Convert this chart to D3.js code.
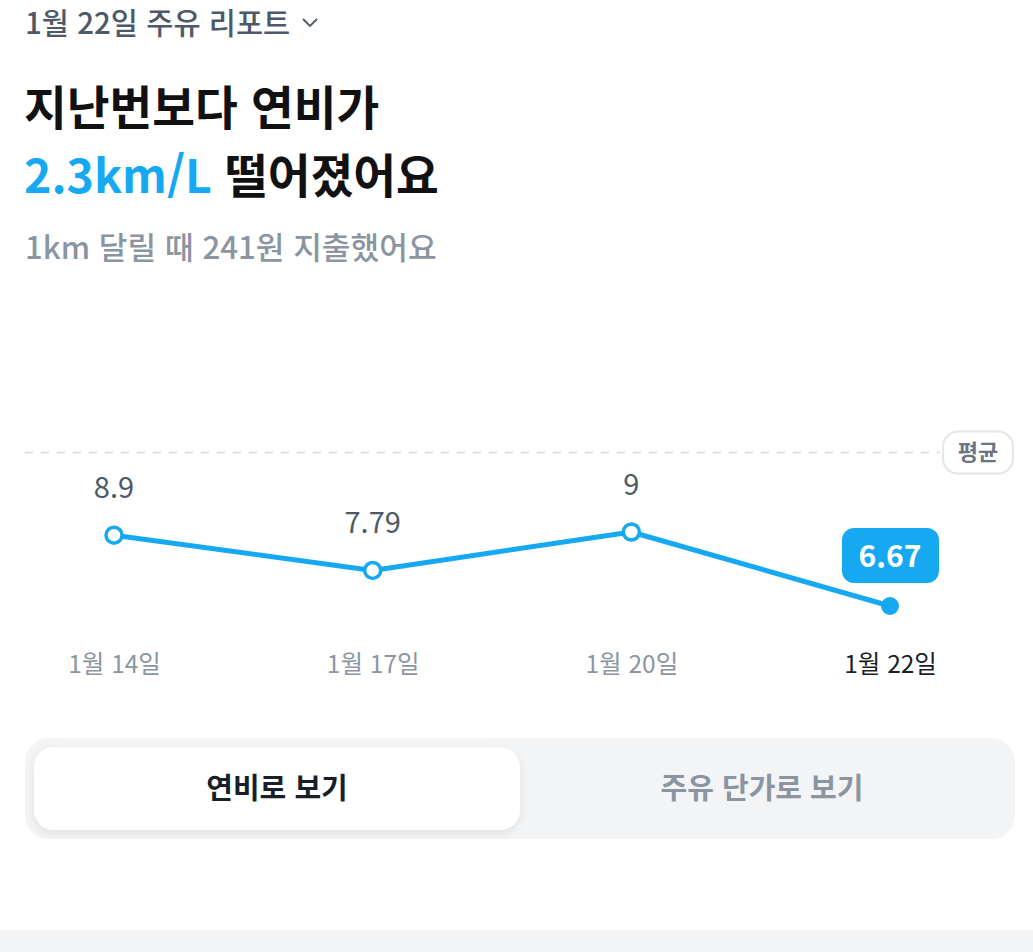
<!DOCTYPE html>
<html lang="ko">
<head>
<meta charset="UTF-8">
<title>주유 리포트</title>
<script src="https://d3js.org/d3.v7.min.js"></script>
<style>
  body { margin: 0; background: #fff; }
  svg { display: block; font-family: "Noto Sans CJK KR", "Noto Sans", sans-serif; }
</style>
</head>
<body>
<svg id="chart"></svg>
<script>
  // data
  const dates = ["1월 14일", "1월 17일", "1월 20일", "1월 22일"];
  const efficiency = [8.9, 7.79, 9, 6.67];
  const averageValue = 11.5;
  const toggleLabels = ["연비로 보기", "주유 단가로 보기"];

  const width = 1033, height = 952;
  const blue = "#16a9f2";

  const svg = d3.select("#chart").attr("width", width).attr("height", height);

  // header
  svg.append("text")
     .attr("x", 25).attr("y", 34)
     .attr("font-size", 29.5).attr("font-weight", 500).attr("fill", "#4e5968")
     .text("1월 22일 주유 리포트");
  svg.append("path")
     .attr("d", "M303,19 L310,26 L317,19")
     .attr("fill", "none").attr("stroke", "#4e5968").attr("stroke-width", 1.8);

  svg.append("text")
     .attr("x", 24).attr("y", 125)
     .attr("font-size", 46.5).attr("font-weight", 700).attr("fill", "#111")
     .text("지난번보다 연비가");

  const t2 = svg.append("text")
     .attr("x", 24).attr("y", 193)
     .attr("font-size", 46.5).attr("font-weight", 700).attr("fill", "#111");
  t2.append("tspan").attr("fill", blue).text("2.3km/L");
  t2.append("tspan").text(" 떨어졌어요");

  svg.append("text")
     .attr("x", 25).attr("y", 259)
     .attr("font-size", 31.2).attr("font-weight", 500).attr("fill", "#8b95a1")
     .text("1km 달릴 때 241원 지출했어요");

  // scales
  const x = d3.scalePoint().domain(dates).range([114, 890]);
  const y = d3.scaleLinear().domain([6.67, 9]).range([606, 532]);

  // average line
  svg.append("line")
     .attr("x1", 25).attr("x2", 940)
     .attr("y1", y(averageValue)).attr("y2", y(averageValue))
     .attr("stroke", "#d5d9de").attr("stroke-width", 1.5)
     .attr("stroke-dasharray", "8,8");

  const avgG = svg.append("g").attr("transform", `translate(978,${y(averageValue)})`);
  avgG.append("rect")
      .attr("x", -35).attr("y", -21).attr("width", 70).attr("height", 42)
      .attr("rx", 15).attr("fill", "#fff")
      .attr("stroke", "#e3e6ea").attr("stroke-width", 2);
  avgG.append("text")
      .attr("text-anchor", "middle").attr("dy", "0.35em")
      .attr("font-size", 22).attr("font-weight", 700).attr("fill", "#6b7684")
      .text("평균");

  const data = dates.map((d, i) => ({ date: d, value: efficiency[i], last: i === dates.length - 1 }));

  // line
  const line = d3.line().x(d => x(d.date)).y(d => y(d.value));
  svg.append("path")
     .datum(data)
     .attr("d", line)
     .attr("fill", "none").attr("stroke", blue)
     .attr("stroke-width", 5).attr("stroke-linejoin", "round");

  // points
  svg.selectAll(".pt")
     .data(data)
     .enter()
     .append("circle")
     .attr("class", "pt")
     .attr("cx", d => x(d.date))
     .attr("cy", d => y(d.value))
     .attr("r", d => d.last ? 9 : 8)
     .attr("fill", d => d.last ? blue : "#fff")
     .attr("stroke", blue)
     .attr("stroke-width", d => d.last ? 0 : 3.5);

  // value labels
  svg.selectAll(".val")
     .data(data.filter(d => !d.last))
     .enter()
     .append("text")
     .attr("class", "val")
     .attr("x", d => x(d.date))
     .attr("y", d => y(d.value) - 37)
     .attr("text-anchor", "middle")
     .attr("font-size", 29).attr("fill", "#4e5968")
     .text(d => d.value);

  const lastD = data[data.length - 1];
  const tip = svg.append("g")
     .attr("transform", `translate(${x(lastD.date)},${y(lastD.value) - 50})`);
  tip.append("rect")
     .attr("x", -48).attr("y", -28).attr("width", 97).attr("height", 55)
     .attr("rx", 12).attr("fill", blue);
  tip.append("text")
     .attr("text-anchor", "middle").attr("dy", "0.36em")
     .attr("font-size", 30).attr("font-weight", 700).attr("fill", "#fff")
     .text(lastD.value);

  // x axis labels
  svg.append("g")
     .attr("transform", "translate(0,664)")
     .call(d3.axisBottom(x).tickSize(0).tickPadding(0))
     .call(g => g.select(".domain").remove())
     .selectAll("text")
     .attr("dy", "0.35em")
     .attr("font-family", "\"Noto Sans CJK KR\", sans-serif")
     .attr("font-size", 24.5)
     .attr("fill", (d, i) => i === dates.length - 1 ? "#191f28" : "#8b95a1");

  // toggle
  const defs = svg.append("defs");
  const f = defs.append("filter").attr("id", "sh").attr("x", "-10%").attr("y", "-30%").attr("width", "120%").attr("height", "170%");
  f.append("feDropShadow").attr("dx", 0).attr("dy", 3).attr("stdDeviation", 5)
   .attr("flood-color", "#000").attr("flood-opacity", 0.08);

  svg.append("rect")
     .attr("x", 25).attr("y", 738).attr("width", 990).attr("height", 101)
     .attr("rx", 24).attr("fill", "#f2f4f6");
  svg.append("rect")
     .attr("x", 34).attr("y", 747).attr("width", 486).attr("height", 83)
     .attr("rx", 20).attr("fill", "#fff").attr("filter", "url(#sh)");

  svg.selectAll(".tg")
     .data(toggleLabels)
     .enter()
     .append("text")
     .attr("class", "tg")
     .attr("x", (d, i) => i === 0 ? 277 : 762)
     .attr("y", 789)
     .attr("dy", "0.35em")
     .attr("text-anchor", "middle")
     .attr("font-size", 29).attr("font-weight", 700)
     .attr("fill", (d, i) => i === 0 ? "#191f28" : "#8b95a1")
     .text(d => d);

  // bottom band
  svg.append("rect")
     .attr("x", 0).attr("y", 930).attr("width", width).attr("height", 22)
     .attr("fill", "#f2f4f6");
</script>
</body>
</html>
